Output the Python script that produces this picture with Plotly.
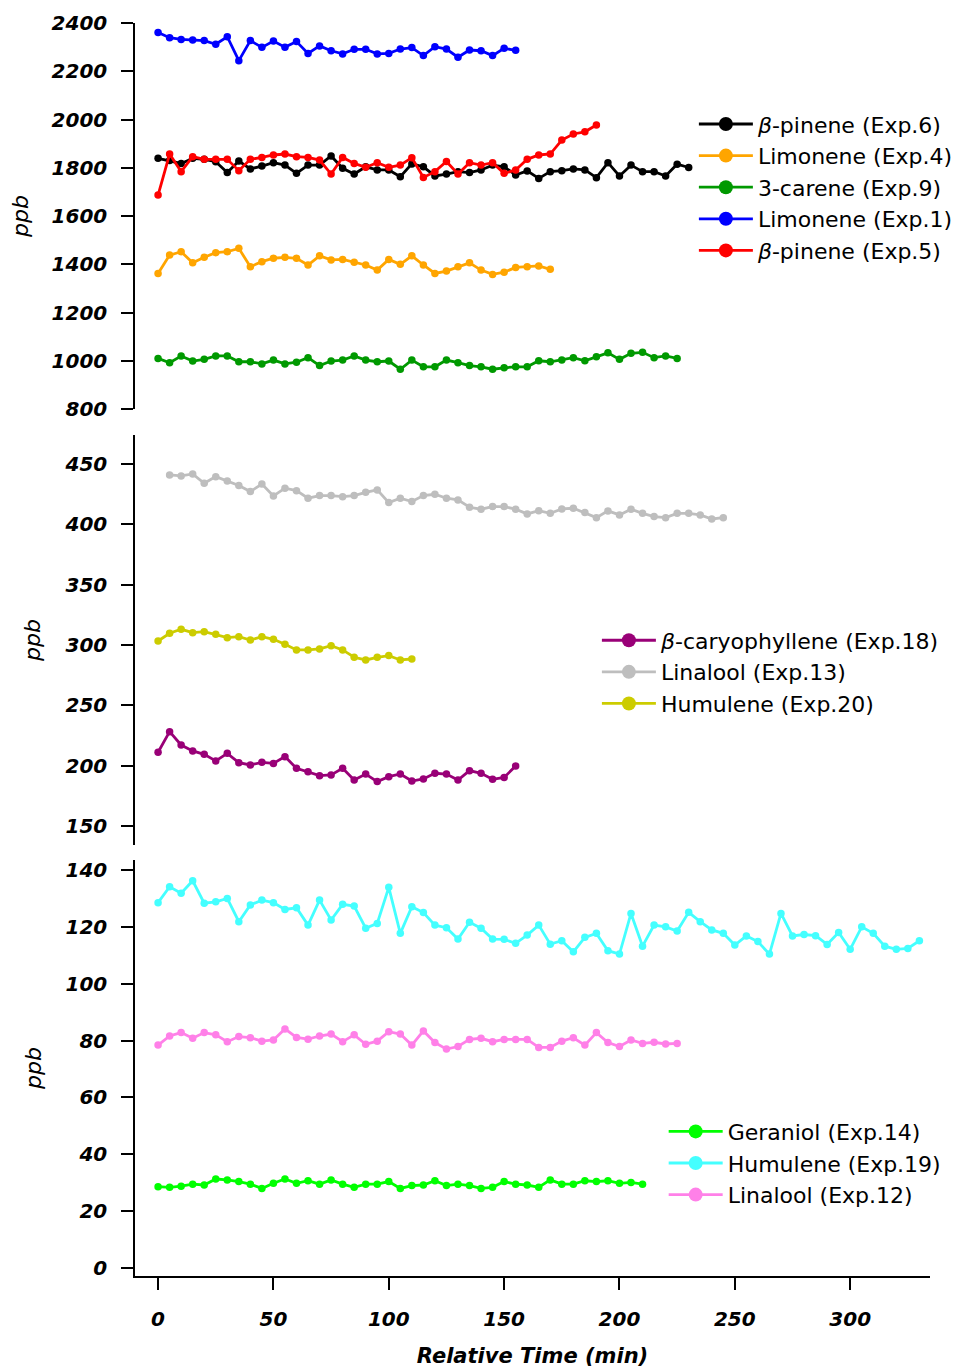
import plotly.graph_objects as go

# ---------------- data ----------------
t_pinene6 = [i * 5 for i in range(47)]
pinene6 = [1839, 1830, 1818, 1839, 1835, 1825, 1780, 1828, 1795, 1807, 1821, 1811, 1777, 1811, 1811, 1849,
           1798, 1774, 1804, 1791, 1791, 1763, 1816, 1804, 1766, 1774, 1784, 1780, 1791, 1811, 1804, 1770,
           1787, 1756, 1784, 1788, 1795, 1791, 1759, 1821, 1766, 1811, 1784, 1784, 1766, 1815, 1801]

t_limonene4 = [i * 5 for i in range(35)]
limonene4 = [1362, 1438, 1452, 1406, 1429, 1448, 1452, 1466, 1390, 1411, 1425, 1429, 1425, 1397, 1435, 1418,
             1420, 1408, 1397, 1376, 1420, 1400, 1435, 1397, 1362, 1372, 1390, 1406, 1376, 1358, 1367, 1387,
             1390, 1393, 1379]

t_carene9 = [i * 5 for i in range(46)]
carene9 = [1010, 992, 1020, 999, 1006, 1020, 1020, 996, 996, 987, 1003, 987, 994, 1013, 980, 999,
           1003, 1020, 1003, 996, 999, 965, 1003, 975, 975, 1003, 992, 980, 975, 965, 971, 975,
           975, 1000, 996, 1003, 1013, 1000, 1017, 1033, 1006, 1031, 1035, 1013, 1020, 1010]

t_limonene1 = [i * 5 for i in range(32)]
limonene1 = [2361, 2339, 2332, 2330, 2327, 2312, 2343, 2244, 2327, 2299, 2325, 2300, 2323, 2274, 2305, 2285,
             2272, 2291, 2291, 2272, 2274, 2292, 2298, 2265, 2302, 2292, 2258, 2288, 2285, 2265, 2295, 2287]

t_pinene5 = [i * 5 for i in range(39)]
pinene5 = [1687, 1857, 1784, 1846, 1835, 1835, 1835, 1788, 1835, 1843, 1853, 1857, 1846, 1843, 1832, 1774,
           1843, 1818, 1802, 1821, 1802, 1811, 1842, 1760, 1784, 1826, 1774, 1821, 1811, 1821, 1777, 1791,
           1835, 1853, 1857, 1915, 1940, 1949, 1977]

t_caryo18 = [i * 5 for i in range(32)]
caryo18 = [211.1, 228.2, 217.1, 212.2, 209.4, 203.9, 210.2, 202.5, 200.6, 202.8, 201.9, 207.5, 197.8, 195.0,
           191.7, 192.3, 197.8, 188.1, 193.1, 186.8, 190.9, 193.1, 187.3, 189.0, 193.7, 193.1, 188.1, 195.9,
           193.7, 188.7, 190.3, 199.7]

t_linalool13 = [5 + i * 5 for i in range(49)]
linalool13 = [440.9, 440.1, 441.7, 434.0, 439.5, 435.9, 432.1, 427.1, 433.4, 423.5, 429.9, 427.9, 421.6, 423.8,
              423.8, 422.9, 423.8, 426.5, 428.5, 418.0, 421.6, 418.8, 423.8, 424.9, 421.6, 420.2, 414.1, 412.5,
              414.7, 414.7, 412.5, 408.6, 411.3, 409.1, 412.7, 413.3, 409.7, 405.5, 411.1, 407.8, 412.5, 409.1,
              406.4, 405.5, 409.1, 409.1, 407.8, 404.4, 405.5]

t_humulene20 = [i * 5 for i in range(23)]
humulene20 = [303.3, 309.7, 313.0, 310.2, 311.0, 308.8, 306.1, 306.9, 304.1, 306.9, 304.7, 300.6, 295.9, 295.9,
              296.7, 299.4, 295.9, 289.8, 287.6, 289.8, 291.2, 287.6, 288.4]

t_geraniol14 = [i * 5 for i in range(43)]
geraniol14 = [28.6, 28.4, 28.8, 29.5, 29.2, 31.3, 31.0, 30.4, 29.5, 28.0, 29.8, 31.3, 29.8, 30.7, 29.5, 31.0,
              29.5, 28.4, 29.5, 29.5, 30.4, 28.0, 29.0, 29.2, 30.7, 29.0, 29.5, 29.0, 28.0, 28.4, 30.4, 29.5,
              29.2, 28.4, 31.0, 29.5, 29.5, 30.7, 30.4, 30.7, 29.8, 30.1, 29.5]

t_humulene19 = [i * 5 for i in range(67)]
humulene19 = [128.5, 134.1, 131.8, 136.2, 128.3, 128.8, 130.0, 121.8, 127.7, 129.4, 128.5, 126.1, 126.7, 120.6,
              129.4, 122.4, 127.9, 127.3, 119.5, 121.2, 133.9, 117.7, 127.1, 125.0, 120.6, 119.7, 115.7, 121.6,
              119.5, 115.7, 115.6, 114.2, 117.1, 120.6, 113.9, 115.1, 111.2, 116.3, 117.7, 111.6, 110.4, 124.7,
              113.2, 120.6, 120.0, 118.5, 125.1, 121.8, 118.9, 117.7, 113.6, 116.8, 114.8, 110.4, 124.7, 116.8,
              117.3, 116.9, 113.8, 118.0, 112.1, 120.0, 117.7, 113.2, 112.1, 112.4, 115.1]

t_linalool12 = [i * 5 for i in range(46)]
linalool12 = [78.4, 81.6, 82.8, 80.8, 82.8, 82.0, 79.6, 81.4, 81.0, 79.8, 80.2, 84.1, 81.1, 80.5, 81.6, 82.3,
              79.6, 82.0, 78.7, 79.8, 83.1, 82.3, 78.4, 83.4, 79.3, 77.0, 77.9, 80.4, 80.8, 79.6, 80.4, 80.4,
              80.4, 77.6, 77.6, 79.8, 81.0, 78.4, 82.8, 79.3, 77.9, 80.2, 79.0, 79.4, 78.8, 79.0]

x_ticks = [0, 50, 100, 150, 200, 250, 300]

# (name, x, y, color, yaxis, legend)
series = [
    ("<i>β</i>-pinene (Exp.6)", t_pinene6, pinene6, "#000000", "y", "legend"),
    ("Limonene (Exp.4)", t_limonene4, limonene4, "#FFA500", "y", "legend"),
    ("3-carene (Exp.9)", t_carene9, carene9, "#009900", "y", "legend"),
    ("Limonene (Exp.1)", t_limonene1, limonene1, "#0000FF", "y", "legend"),
    ("<i>β</i>-pinene (Exp.5)", t_pinene5, pinene5, "#FF0000", "y", "legend"),
    ("<i>β</i>-caryophyllene (Exp.18)", t_caryo18, caryo18, "#990077", "y2", "legend2"),
    ("Linalool (Exp.13)", t_linalool13, linalool13, "#BEBEBE", "y2", "legend2"),
    ("Humulene (Exp.20)", t_humulene20, humulene20, "#CCCC00", "y2", "legend2"),
    ("Geraniol (Exp.14)", t_geraniol14, geraniol14, "#00FF00", "y3", "legend3"),
    ("Humulene (Exp.19)", t_humulene19, humulene19, "#44FFFF", "y3", "legend3"),
    ("Linalool (Exp.12)", t_linalool12, linalool12, "#FF80E8", "y3", "legend3"),
]

FONT = "DejaVu Sans, Arial, sans-serif"

fig = go.Figure()
for name, xs, ys, col, ya, lg in series:
    fig.add_trace(go.Scatter(
        x=xs, y=ys, mode="lines+markers", yaxis=ya, xaxis="x",
        line=dict(color=col, width=2.8), marker=dict(color=col, size=7.5),
        showlegend=False, hoverinfo="skip"))
for name, xs, ys, col, ya, lg in series:
    fig.add_trace(go.Scatter(
        x=[None], y=[None], mode="lines+markers", yaxis=ya, xaxis="x",
        name=name, legend=lg,
        line=dict(color=col, width=2.8), marker=dict(color=col, size=14),
        showlegend=True))

tickfont = dict(family=FONT, size=20, color="black", weight="bold", style="italic")
titlefont = dict(family=FONT, size=22, color="black", style="italic")

yax_common = dict(
    showline=True, linecolor="black", linewidth=1.5, ticks="outside", ticklen=12,
    tickwidth=1.5, tickcolor="black", showgrid=False, zeroline=False,
    tickfont=tickfont, anchor="x", ticklabelstandoff=10, automargin=False,
    title=dict(text="ppb", font=titlefont, standoff=18),
)

legfont = dict(family=FONT, size=22, color="black")
leg_common = dict(font=legfont, bgcolor="rgba(0,0,0,0)", xanchor="left", yanchor="top",
                  itemwidth=54, tracegroupgap=0)

fig.update_layout(
    width=964, height=1369,
    margin=dict(l=127, r=42, t=15, b=101),
    paper_bgcolor="white", plot_bgcolor="white",
    font=dict(family=FONT, color="black"),
    xaxis=dict(
        domain=[0, 1], anchor="y3", range=[-10, 334.6], automargin=False,
        tickvals=x_ticks, ticktext=[str(v) for v in x_ticks],
        showline=True, linecolor="black", linewidth=1.5, ticks="outside", ticklen=12,
        tickwidth=1.5, tickcolor="black", showgrid=False, zeroline=False,
        tickfont=tickfont, ticklabelstandoff=12,
        title=dict(text="Relative Time (min)",
                   font=dict(family=FONT, size=21, color="black", weight="bold", style="italic"),
                   standoff=19),
    ),
    yaxis=dict(domain=[0.6919, 1.0], range=[800, 2400], dtick=200, **yax_common),
    yaxis2=dict(domain=[0.3440, 0.6712], range=[134.3, 474], dtick=50, tick0=0, **yax_common),
    yaxis3=dict(domain=[0.0, 0.3320], range=[-2.8, 143.5], dtick=20, tick0=0, **yax_common),
    legend=dict(x=0.703, y=0.936, **leg_common),
    legend2=dict(x=0.581, y=0.524, **leg_common),
    legend3=dict(x=0.665, y=0.132, **leg_common),
)

fig.write_html("out.html")
